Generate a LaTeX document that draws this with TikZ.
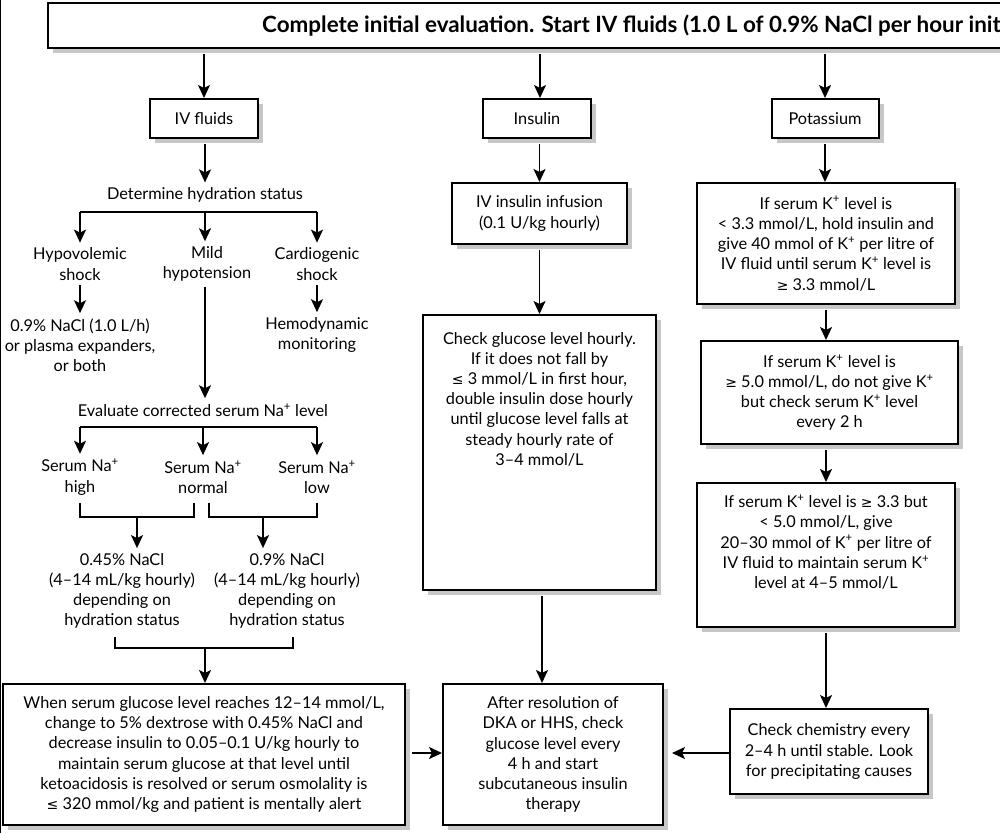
\documentclass[tikz,border=0pt]{standalone}
\usepackage{fontspec}
\setmainfont{Lato}
\newfontfamily\symf{DejaVu Sans}
\usetikzlibrary{arrows.meta,shadows}
\newcommand\mylte{{\symf\fontsize{14}{20}\selectfont ≤}}
\newcommand\mygte{{\symf\fontsize{14}{20}\selectfont ≥}}
\newcommand\sps{\textsuperscript{+}}
\begin{document}
\begin{tikzpicture}[x=1pt,y=-1pt,
  every node/.style={font=\fontsize{16.3}{20.2}\selectfont, align=center, inner xsep=2pt, inner ysep=5pt, text=black},
  box/.style={draw, line width=2pt, fill=white, inner sep=2pt,
    drop shadow={shadow xshift=5pt,shadow yshift=-5pt,fill=black!22,opacity=1}},
  conn/.style={line width=1.9pt},
  arr/.style={conn,-{Stealth[length=13pt,width=12pt,inset=3pt]}},
]
\useasboundingbox (0,0) rectangle (1000,833);
\clip (0,0) rectangle (1000,833);
\fill[white] (0,0) rectangle (1000,833);
\draw[line width=1.2pt] (0.6,0) -- (0.6,833);

% top
\node[box, minimum width=970, minimum height=45] (top) at (533,25.5) {};
\node[font=\bfseries\fontsize{22.4}{26}\selectfont, anchor=base west, inner sep=0] (toptxt) at (262,32) {Complete initial evaluation. Start IV fluids (1.0 L of 0.9\% NaCl per hour init};

\node[box, minimum width=108, minimum height=39] (ivf) at (204,118.5) {IV fluids};
\node[box, minimum width=108, minimum height=39] (ins) at (537,118.5) {Insulin};
\node[box, minimum width=107, minimum height=39] (pot) at (825,118.5) {Potassium};

\draw[arr, shorten <=5pt] (top.south -| ivf) -- (ivf.north);
\draw[arr, shorten <=5pt] (top.south -| 540,0) -- (540,0 |- ins.north);
\draw[arr, shorten <=5pt] (top.south -| pot) -- (pot.north);

% left column
\node (dhs) at (205,195) {Determine hydration status};
\draw[arr, shorten <=5pt] (ivf.south -| dhs) -- (dhs.north);
\coordinate (b1L) at (80,212);
\coordinate (b1M) at (205,212);
\coordinate (b1R) at (317,212);
\node (hypo) at (80,264) {Hypovolemic\\shock};
\node (mild) at (207,264) {Mild\\hypotension};
\node (card) at (317,264) {Cardiogenic\\shock};
\draw[conn] (b1L) -- (b1R);
\draw[arr] (b1L) -- (hypo.north);
\draw[arr] (b1M) -- (b1M |- mild.north);
\draw[arr] (b1R) -- (card.north);
\node (nacl) at (80,345) {0.9\% NaCl (1.0 L/h)\\or plasma expanders,\\or both};
\node (hemo) at (317,335) {Hemodynamic\\monitoring};
\draw[arr] (hypo.south) -- (nacl.north);
\draw[arr] (card.south) -- (hemo.north);

\node (evna) at (203,410) {Evaluate corrected serum Na\sps{} level};
\draw[arr] (mild.south -| b1M) -- (b1M |- evna.north);
\coordinate (b2L) at (80,427);
\coordinate (b2M) at (203,427);
\coordinate (b2R) at (317,427);
\node (nahigh) at (80,477) {Serum Na\sps\\high};
\node (nanorm) at (203,477) {Serum Na\sps\\normal};
\node (nalow) at (317,477) {Serum Na\sps\\low};
\draw[conn] (b2L) -- (b2R);
\draw[arr] (b2L) -- (nahigh.north);
\draw[arr] (b2M) -- (nanorm.north);
\draw[arr] (b2R) -- (nalow.north);

\coordinate (k1a) at (80,503);
\coordinate (k1b) at (194,503);
\coordinate (k2a) at (209,503);
\coordinate (k2b) at (317,503);
\draw[conn] (k1a) |- (137,517) coordinate (k1m) -| (k1b);
\draw[conn] (k2a) |- (263,517) coordinate (k2m) -| (k2b);
\node (s045) at (122,591) {0.45\% NaCl\\(4–14 mL/kg hourly)\\depending on\\hydration status};
\node (s09) at (287,591) {0.9\% NaCl\\(4–14 mL/kg hourly)\\depending on\\hydration status};
\draw[arr] (k1m) -- (k1m |- s045.north);
\draw[arr] (k2m) -- (k2m |- s09.north);

\coordinate (k3a) at (115,637);
\coordinate (k3b) at (293,637);
\draw[conn] (k3a) |- (205,648) coordinate (k3m) -| (k3b);

% bottom
\node[box, minimum width=402, minimum height=141] (bl) at (204,754.5) {When serum glucose level reaches 12–14 mmol/L,\\change to 5\% dextrose with 0.45\% NaCl and\\decrease insulin to 0.05–0.1 U/kg hourly to\\maintain serum glucose at that level until\\ketoacidosis is resolved or serum osmolality is\\\mylte{} 320 mmol/kg and patient is mentally alert};
\node[box, minimum width=220, minimum height=141] (bm) at (553,754.5) {After resolution of\\DKA or HHS, check\\glucose level every\\4 h and start\\subcutaneous insulin\\therapy};
\node[box, minimum width=198, minimum height=85] (br) at (829,751.5) {Check chemistry every\\2–4 h until stable. Look\\for precipitating causes};
\draw[arr] (k3m) -- (k3m |- bl.north);

% middle column
\node[box, minimum width=175, minimum height=61] (ivinf) at (539.5,213.5) {IV insulin infusion\\(0.1 U/kg hourly)};
\draw[arr, shorten <=5pt] (ins.south -| ivinf) -- (ivinf.north);
\node[box, minimum width=233, minimum height=275] (chk) at (539.5,452.5) {};
\node (chktxt) at (539.5,399) {Check glucose level hourly.\\If it does not fall by\\\mylte{} 3 mmol/L in first hour,\\double insulin dose hourly\\until glucose level falls at\\steady hourly rate of\\3–4 mmol/L};
\draw[arr, shorten <=5pt] (ivinf.south) -- (chk.north);
\draw[arr, shorten <=5pt] (chk.south -| 542,0) -- (542,0 |- bm.north);

% right column
\node[box, minimum width=258, minimum height=121] (kb1) at (826,243.5) {If serum K\sps{} level is\\< 3.3 mmol/L, hold insulin and\\give 40 mmol of K\sps{} per litre of\\IV fluid until serum K\sps{} level is\\\mygte{} 3.3 mmol/L};
\node[box, minimum width=257, minimum height=103] (kb2) at (829.5,392.5) {If serum K\sps{} level is\\\mygte{} 5.0 mmol/L, do not give K\sps\\but check serum K\sps{} level\\every 2 h};
\node[box, minimum width=258, minimum height=144] (kb3) at (826,555) {};
\node (kb3txt) at (826,542) {If serum K\sps{} level is \mygte{} 3.3 but\\< 5.0 mmol/L, give\\20–30 mmol of K\sps{} per litre of\\IV fluid to maintain serum K\sps\\level at 4–5 mmol/L};
\draw[arr, shorten <=5pt] (pot.south) -- (pot.south |- kb1.north);
\draw[arr, shorten <=5pt] (kb1.south) -- (kb1.south |- kb2.north);
\draw[arr, shorten <=5pt] (kb2.south -| kb1) -- (kb1 |- kb3.north);
\draw[arr, shorten <=5pt] (kb3.south) -- (kb3.south |- br.north);

\draw[arr, shorten <=6pt] (bl.east |- 0,753) -- (bm.west |- 0,753);
\draw[arr, shorten >=8pt] (br.west |- 0,753) -- (bm.east |- 0,753);
\end{tikzpicture}
\end{document}
